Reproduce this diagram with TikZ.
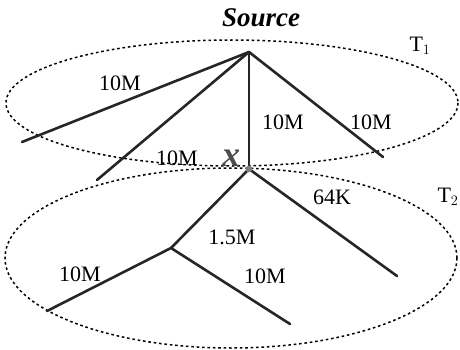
\documentclass[tikz,border=0pt]{standalone}
\usepackage{fontspec}
\setmainfont{Liberation Serif}
\begin{document}
\begin{tikzpicture}[x=1pt,y=-1pt,
  branch/.style={line width=2.6pt,black!85,line cap=round},
  region/.style={dash pattern=on 2.6pt off 2.8pt,line width=1.5pt},
  lbl/.style={font=\fontsize{22}{24}\selectfont,inner sep=0pt},
  hand/.style={font=\fontsize{27}{28}\selectfont\bfseries\itshape,inner sep=0pt}]
\useasboundingbox (0,0) rectangle (460,350);
% regions
\draw[region] (232,103) ellipse [x radius=226, y radius=63];
\draw[region] (231,258) ellipse [x radius=226, y radius=90];
% points
\coordinate (S) at (249,52);
\coordinate (a) at (22,142);
\coordinate (b) at (97,180);
\coordinate (X) at (249,169);
\coordinate (c) at (383,157);
\coordinate (m) at (171,248);
\coordinate (d) at (47,311);
\coordinate (e) at (290,324);
\coordinate (f) at (397,276);
% branches
\draw[branch] (S) -- (a);
\draw[branch] (S) -- (b);
\draw[branch] (S) -- (X);
\draw[branch] (S) -- (c);
\draw[branch] (X) -- (m);
\draw[branch] (m) -- (d);
\draw[branch] (m) -- (e);
\draw[branch] (X) -- (f);
\fill[gray] (X) circle (3.4pt);
% labels
\node[hand] (src) at (261,18) {Source};
\node[hand,font=\fontsize{36}{36}\selectfont\bfseries\itshape,gray!60!black] (xm) at (231,158) {x};
\node[lbl] (l1) at (120,83) {10M};
\node[lbl] (l2) at (283,122) {10M};
\node[lbl] (l3) at (371,122) {10M};
\node[lbl] (l4) at (177,158) {10M};
\node[lbl] (t1) at (420,46) {T$_1$};
\node[lbl] (t2) at (448,197) {T$_2$};
\node[lbl] (l5) at (332,197) {64K};
\node[lbl] (l6) at (232,237) {1.5M};
\node[lbl] (l7) at (80,274) {10M};
\node[lbl] (l8) at (265,276) {10M};
\end{tikzpicture}
\end{document}
